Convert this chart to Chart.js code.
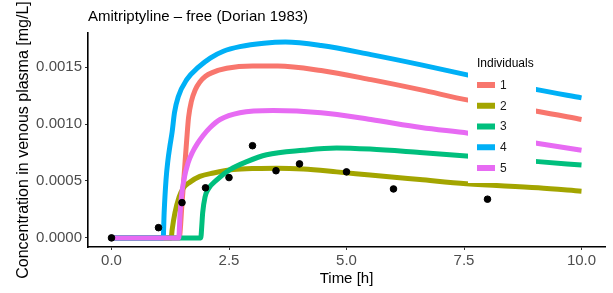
<!DOCTYPE html>
<html>
<head>
<meta charset="utf-8">
<script src="https://cdn.jsdelivr.net/npm/chart.js@4/dist/chart.umd.min.js"></script>
<style>
html, body { margin: 0; padding: 0; background: #fff; }
#wrap { width: 613px; height: 293px; }
</style>
</head>
<body>
<div id="wrap"><canvas id="chart" width="613" height="293"></canvas></div>
<script>
const chartTitle = 'Amitriptyline – free (Dorian 1983)';
const xLabel = 'Time [h]';
const yLabel = 'Concentration in venous plasma [mg/L]';
const legendTitle = 'Individuals';
const individuals = ['1', '2', '3', '4', '5'];
const colors = ['#F8766D', '#A3A500', '#00BF7D', '#00B0F6', '#E76BF3'];

// simulated curves
const time1 = [0, 1.44, 1.5, 1.55, 1.6, 1.64, 1.7, 1.78, 1.88, 2.0, 2.13, 2.45, 3.0, 3.54, 4.46, 5.52, 6.59, 7.59, 9.08, 10];
const conc1 = [0, 0, 0.0003, 0.00058, 0.00086, 0.00106, 0.0012, 0.0013, 0.00137, 0.00142, 0.00145, 0.00149, 0.00151, 0.00151, 0.00147, 0.00139, 0.0013, 0.00121, 0.00111, 0.00104];
const time2 = [0, 1.27, 1.29, 1.35, 1.44, 1.53, 1.67, 1.88, 2.17, 2.59, 3.09, 3.51, 4.08, 4.79, 5.5, 6.56, 7.55, 9.08, 10];
const conc2 = [0, 0, 0.00007, 0.00022, 0.00036, 0.00044, 0.00049, 0.00054, 0.00057, 0.0006, 0.00061, 0.000612, 0.000605, 0.00058, 0.000552, 0.000512, 0.000475, 0.00044, 0.00041];
const time3 = [0, 1.9, 1.92, 1.94, 1.99, 2.06, 2.24, 2.52, 2.88, 3.3, 4.08, 4.79, 5.5, 6.56, 7.55, 9.08, 10];
const conc3 = [0, 0, 0.0001, 0.00022, 0.00036, 0.00043, 0.00051, 0.0006, 0.00067, 0.00073, 0.00077, 0.00079, 0.00078, 0.00075, 0.00072, 0.00067, 0.00064];
const time4 = [0, 1.1, 1.12, 1.16, 1.2, 1.24, 1.29, 1.34, 1.42, 1.6, 1.85, 2.1, 2.38, 2.73, 3.24, 3.7, 4.46, 5.52, 6.59, 7.59, 9.08, 10];
const conc4 = [0, 0, 0.00022, 0.00051, 0.00068, 0.0008, 0.00093, 0.0011, 0.00124, 0.00139, 0.0015, 0.00158, 0.00164, 0.00168, 0.00171, 0.00172, 0.00169, 0.00161, 0.00152, 0.00143, 0.0013, 0.00123];
const time5 = [0, 1.43, 1.46, 1.49, 1.54, 1.63, 1.72, 1.83, 1.95, 2.1, 2.31, 2.73, 3.44, 4.46, 5.52, 6.59, 7.59, 9.08, 10];
const conc5 = [0, 0, 0.00022, 0.00037, 0.00051, 0.00066, 0.00075, 0.00083, 0.0009, 0.00097, 0.00104, 0.0011, 0.00112, 0.0011, 0.00104, 0.00097, 0.00092, 0.00083, 0.00077];

// observed data
const obsTime = [0, 1, 1.5, 2, 2.5, 3, 3.5, 4, 5, 6, 8];
const obsConc = [0, 0.00009, 0.00031, 0.00044, 0.00053, 0.00081, 0.00059, 0.00065, 0.00058, 0.00043, 0.00034];

const xTicks = [0, 2.5, 5, 7.5, 10];
const yTicks = [0, 0.0005, 0.001, 0.0015];

const FONT = '"Liberation Sans", Arial, sans-serif';
const times = [time1, time2, time3, time4, time5];
const concs = [conc1, conc2, conc3, conc4, conc5];
const drawOrder = [5, 4, 3, 2, 1]; // ind 5 on top, like ggplot

const lineSets = individuals.map((name, i) => ({
    type: 'line',
    label: name,
    data: times[i].map((t, j) => ({ x: t, y: concs[i][j] })),
    borderColor: colors[i],
    backgroundColor: colors[i],
    borderWidth: 5,
    borderCapStyle: 'butt',
    pointRadius: 0,
    cubicInterpolationMode: 'monotone',
    order: drawOrder[i]
}));

const obsSet = {
    type: 'scatter',
    label: 'observed',
    data: obsTime.map((t, j) => ({ x: t, y: obsConc[j] })),
    backgroundColor: '#000',
    borderColor: '#000',
    pointRadius: 3.3,
    order: 0
};

const titlePlugin = {
    id: 'plotTitle',
    afterDraw(chart) {
        const ctx = chart.ctx;
        ctx.save();
        ctx.fillStyle = '#000';
        ctx.font = '15px ' + FONT;
        ctx.textBaseline = 'alphabetic';
        ctx.fillText(chartTitle, chart.chartArea.left, 21);
        ctx.restore();
    }
};

const legendPlugin = {
    id: 'insetLegend',
    afterDatasetsDraw(chart) {
        const ctx = chart.ctx;
        ctx.save();
        ctx.fillStyle = '#fff';
        ctx.fillRect(468, 50, 68, 133);
        ctx.fillStyle = '#000';
        ctx.font = '12px ' + FONT;
        ctx.textBaseline = 'middle';
        ctx.fillText(legendTitle, 477, 64);
        individuals.forEach((lab, i) => {
            const y = 85 + i * 20.75;
            ctx.fillStyle = colors[i];
            ctx.fillRect(477, y - 3, 18, 6);
            ctx.fillStyle = '#1a1a1a';
            ctx.fillText(lab, 500, y + 0.5);
        });
        ctx.restore();
    }
};

new Chart(document.getElementById('chart').getContext('2d'), {
    data: { datasets: [...lineSets, obsSet] },
    options: {
        responsive: false,
        animation: false,
        layout: { padding: { top: 33, right: 8, left: 0, bottom: 0 } },
        plugins: { legend: { display: false }, tooltip: { enabled: false }, title: { display: false } },
        scales: {
            x: {
                type: 'linear',
                min: -0.5,
                max: 10.5,
                afterFit: s => { s.height = 46; },
                afterBuildTicks: s => { s.ticks = xTicks.map(v => ({ value: v })); },
                ticks: {
                    color: '#4D4D4D',
                    font: { family: FONT, size: 15 },
                    padding: 2,
                    callback: v => v.toFixed(1)
                },
                grid: { drawOnChartArea: false, drawTicks: true, tickLength: 3, color: '#333' },
                border: { display: true, color: '#000', width: 1.6 },
                title: { display: true, text: xLabel, color: '#000', font: { family: FONT, size: 15 }, padding: { top: 0, bottom: 5 } }
            },
            y: {
                type: 'linear',
                min: -0.00008,
                max: 0.0018,
                afterFit: s => { s.width = 88; },
                afterBuildTicks: s => { s.ticks = yTicks.map(v => ({ value: v })); },
                ticks: {
                    color: '#4D4D4D',
                    font: { family: FONT, size: 15 },
                    padding: 3,
                    callback: v => v.toFixed(4)
                },
                grid: { drawOnChartArea: false, drawTicks: true, tickLength: 3, color: '#333' },
                border: { display: true, color: '#000', width: 1.6 },
                title: { display: true, text: yLabel, color: '#000', font: { family: FONT, size: 16 }, padding: { top: 14, bottom: 0 } }
            }
        }
    },
    plugins: [titlePlugin, legendPlugin]
});
</script>
</body>
</html>
